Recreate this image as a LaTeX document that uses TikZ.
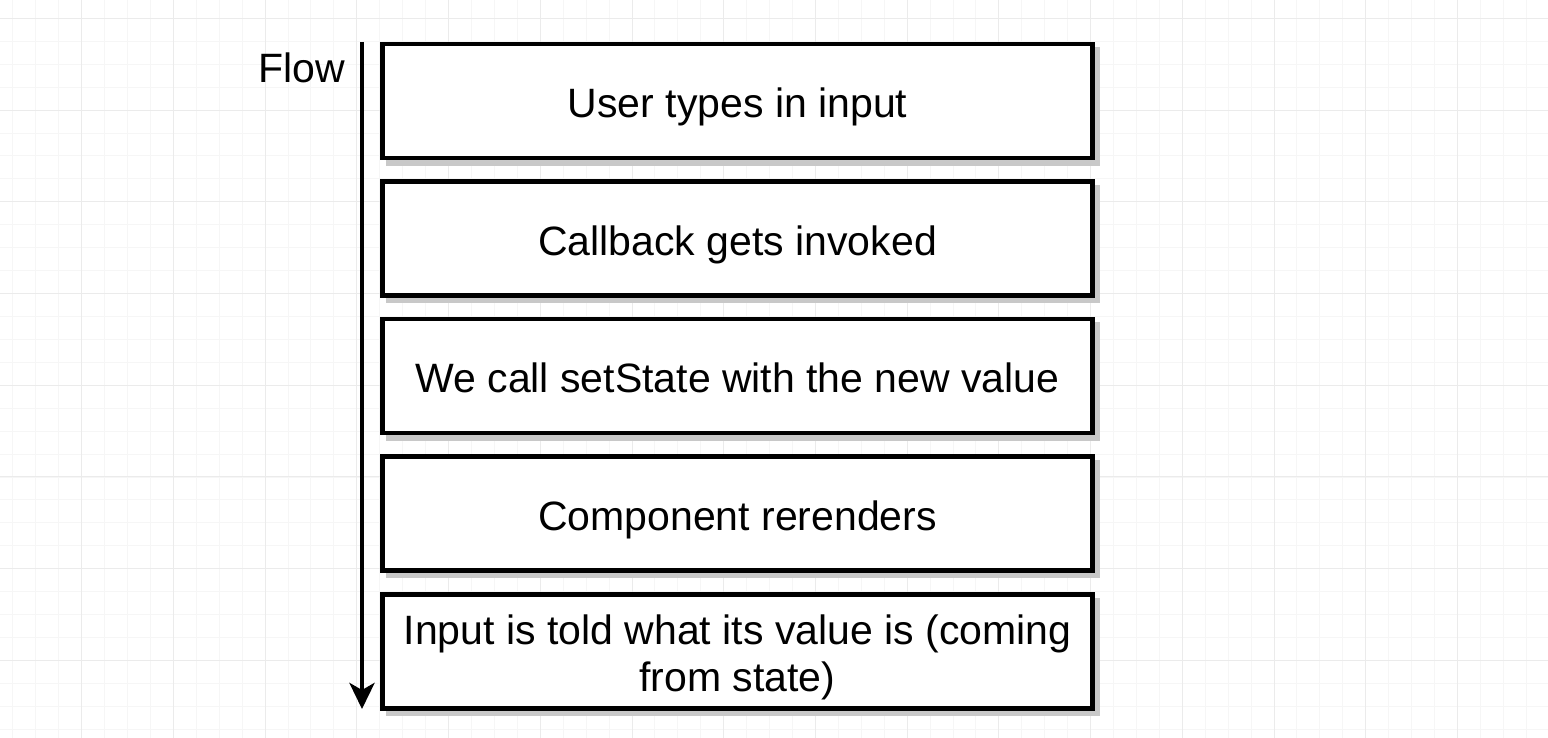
\documentclass[tikz,border=0pt]{standalone}
\usepackage{fontspec}
\setmainfont{Liberation Sans}
\usetikzlibrary{arrows.meta}
\definecolor{gridminor}{RGB}{246,246,246}
\definecolor{gridmajor}{RGB}{235,235,235}
\definecolor{shadowgrey}{RGB}{200,200,200}
\begin{document}
\begin{tikzpicture}[x=1pt,y=-1pt,
  stepbox/.style={draw=black, fill=white, line width=4.5pt,
    minimum width=710pt, minimum height=114pt, inner sep=0pt,
    font=\fontsize{41}{47}\selectfont, align=center,
    text height=33.5pt, text depth=0pt,
    preaction={draw=shadowgrey, fill=shadowgrey,
      transform canvas={shift={(5.5pt,-5.5pt)}}}},
  flowlabel/.style={font=\fontsize{41}{47}\selectfont, anchor=base},
  flowarrow/.style={line width=4.5pt, -{Stealth[length=26pt,width=25pt,inset=7pt]}},
]
\useasboundingbox (0,0) rectangle (1548,738);
% background grid
\begin{scope}
  \clip (0,0) rectangle (1548,738);
  \fill[white] (0,0) rectangle (1548,738);
  \foreach \i in {0,...,67} \draw[gridminor, line width=1pt] (12.9+22.93*\i,0) -- ++(0,738);
  \foreach \i in {0,...,32} \draw[gridminor, line width=1pt] (0,18.4+22.93*\i) -- ++(1548,0);
  \foreach \i in {0,...,16} \draw[gridmajor, line width=1pt] (81.7+91.72*\i,0) -- ++(0,738);
  \foreach \i in {-1,...,7} \draw[gridmajor, line width=1pt] (0,110.1+91.72*\i) -- ++(1548,0);
\end{scope}

% steps
\node[stepbox] (s1) at (737.5,101) {User types in input};
\node[stepbox] (s2) at (737.5,238.5) {Callback gets invoked};
\node[stepbox] (s3) at (737.5,376) {We call setState with the new value};
\node[stepbox] (s4) at (737.5,513.5) {Component rerenders};
\node[stepbox, text height=80.5pt] (s5) at (737.5,651.5) {Input is told what its value is (coming\\from state)};

% flow direction
\node[flowlabel] (flow) at (301.5,83) {Flow};
\coordinate (flowtop) at (362,42);
\coordinate (flowend) at (362,709);
\draw[flowarrow] (flowtop) -- (flowend);
\end{tikzpicture}
\end{document}
